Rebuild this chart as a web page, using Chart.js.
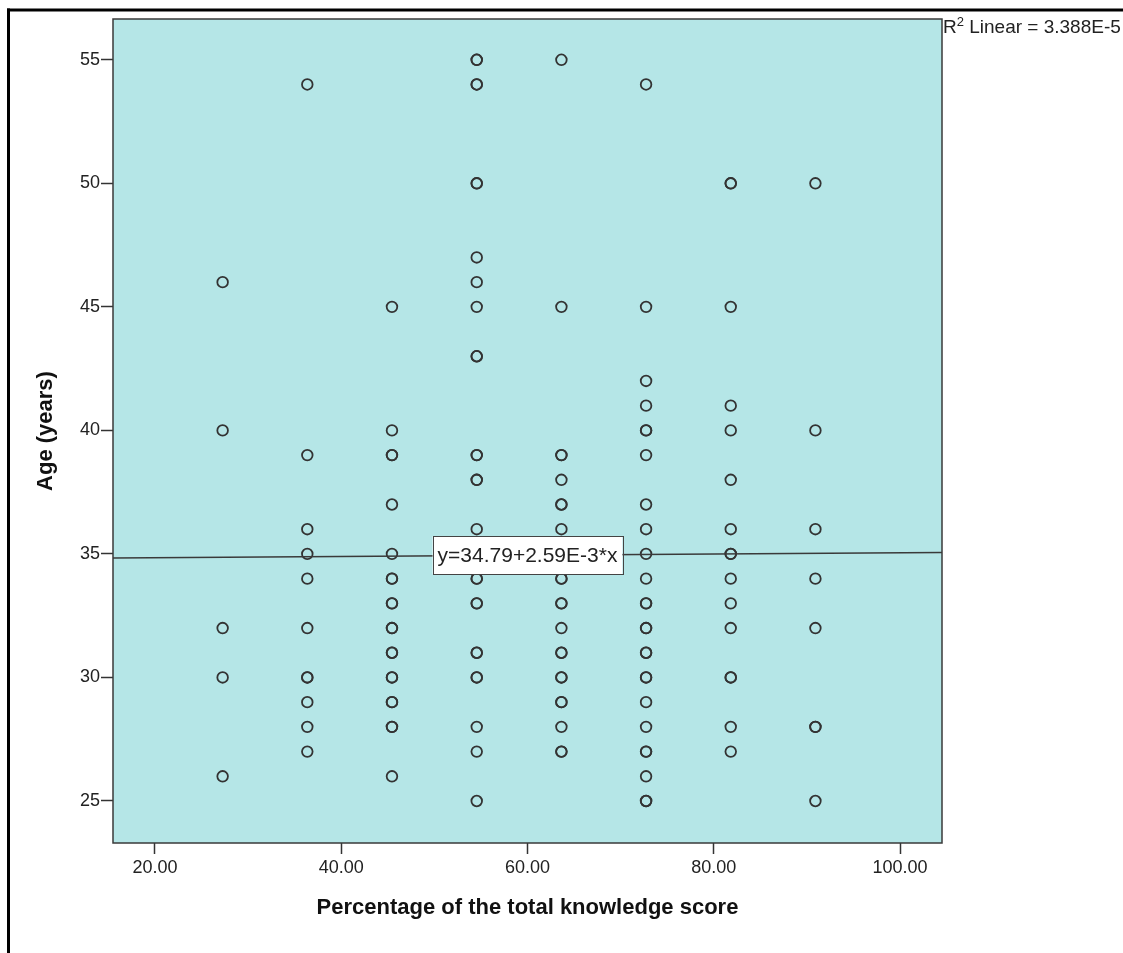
<!DOCTYPE html>
<html>
<head>
<meta charset="utf-8">
<script src="https://cdn.jsdelivr.net/npm/chart.js@4.4.1/dist/chart.umd.min.js"></script>
<style>
    html, body { margin: 0; padding: 0; background: #fff; }
    #wrap { width: 1123px; height: 953px; }
</style>
</head>
<body>
<div id="wrap"><canvas id="scatterChart" width="1123" height="953"></canvas></div>
<script>
const scoreLevels = [27.27, 36.36, 45.45, 54.55, 63.64, 72.73, 81.82, 90.91];
const ages27 = [46, 40, 32, 30, 26];
const ages36 = [54, 39, 36, 35, 34, 32, 30, 30, 29, 28, 27];
const ages45 = [45, 40, 39, 39, 37, 35, 34, 34, 33, 33, 32, 32, 31, 31, 30, 30, 29, 29, 28, 28, 26];
const ages54 = [55, 55, 54, 54, 50, 50, 47, 46, 45, 43, 43, 39, 39, 38, 38, 36, 34, 34, 33, 33, 31, 31, 30, 30, 28, 27, 25];
const ages63 = [55, 45, 39, 39, 38, 37, 37, 36, 34, 34, 33, 33, 32, 31, 31, 30, 30, 29, 29, 28, 27, 27];
const ages72 = [54, 45, 42, 41, 40, 40, 39, 37, 36, 35, 34, 33, 33, 32, 32, 31, 31, 30, 30, 29, 28, 27, 27, 26, 25, 25];
const ages81 = [50, 50, 45, 41, 40, 38, 36, 35, 35, 34, 33, 32, 30, 30, 28, 27];
const ages90 = [50, 40, 36, 34, 32, 28, 28, 25];
const agesByLevel = [ages27, ages36, ages45, ages54, ages63, ages72, ages81, ages90];

// Axis ticks
const xTicks = [20, 40, 60, 80, 100];
const yTicks = [25, 30, 35, 40, 45, 50, 55];

// Fit line
const fitIntercept = 34.79;
const fitSlope = 0.00259;
const fitLabel = 'y=34.79+2.59E-3*x';
const rSquaredText = '3.388E-5';

const xMin = 15.5, xMax = 104.5;
const yMin = 23.3, yMax = 56.65;

const points = [];
scoreLevels.forEach((level, i) => {
    agesByLevel[i].forEach(age => points.push({ x: level, y: age }));
});

const fitLine = [
    { x: xMin, y: fitIntercept + fitSlope * xMin },
    { x: xMax, y: fitIntercept + fitSlope * xMax }
];

const inkColor = '#333333';
const fontFamily = '"Liberation Sans", Arial, sans-serif';

// Background, frame, plot box, equation box and R2 label
const spssPlugin = {
    id: 'spssLook',
    beforeDraw(chart) {
        const { ctx, chartArea: a } = chart;
        ctx.save();
        ctx.fillStyle = '#000';
        ctx.fillRect(7, 8.5, chart.width, 3);
        ctx.fillRect(7, 8.5, 3, chart.height);
        ctx.fillStyle = '#b5e6e7';
        ctx.fillRect(a.left, a.top, a.right - a.left, a.bottom - a.top);
        ctx.restore();
    },
    afterDatasetsDraw(chart) {
        const { ctx, chartArea: a, scales } = chart;
        ctx.save();
        ctx.strokeStyle = '#3a3a3a';
        ctx.lineWidth = 1.5;
        ctx.strokeRect(a.left, a.top, a.right - a.left, a.bottom - a.top);

        // equation label in the middle of the fit line
        const cx = (a.left + a.right) / 2;
        const cy = scales.y.getPixelForValue(fitIntercept + fitSlope * scales.x.getValueForPixel(cx));
        ctx.font = '21px ' + fontFamily;
        const w = ctx.measureText(fitLabel).width + 10;
        const h = 38;
        ctx.fillStyle = '#fff';
        ctx.fillRect(cx - w / 2, cy - h / 2, w, h);
        ctx.strokeStyle = '#444';
        ctx.lineWidth = 1;
        ctx.strokeRect(Math.round(cx - w / 2) + 0.5, Math.round(cy - h / 2) + 0.5, Math.round(w), h);
        ctx.fillStyle = '#222';
        ctx.textAlign = 'center';
        ctx.textBaseline = 'middle';
        ctx.fillText(fitLabel, cx, cy + 1);

        // R2 label outside the top right corner
        let tx = a.right + 1;
        const base = a.top + 14;
        ctx.textAlign = 'left';
        ctx.textBaseline = 'alphabetic';
        ctx.font = '19px ' + fontFamily;
        ctx.fillText('R', tx, base);
        tx += ctx.measureText('R').width;
        ctx.font = '13px ' + fontFamily;
        ctx.fillText('2', tx, base - 7);
        tx += ctx.measureText('2').width;
        ctx.font = '19px ' + fontFamily;
        ctx.fillText(' Linear = ' + rSquaredText, tx, base);
        ctx.restore();
    }
};

const ctxScatter = document.getElementById('scatterChart').getContext('2d');
new Chart(ctxScatter, {
    type: 'scatter',
    data: {
        datasets: [
            {
                type: 'line',
                data: fitLine,
                borderColor: '#3a3a3a',
                borderWidth: 1.5,
                pointRadius: 0,
                fill: false
            },
            {
                data: points,
                pointStyle: 'circle',
                pointRadius: 5.3,
                borderWidth: 1.8,
                borderColor: inkColor,
                backgroundColor: 'rgba(0,0,0,0)'
            }
        ]
    },
    options: {
        responsive: false,
        animation: false,
        layout: { padding: { top: 19, right: 181, bottom: 0, left: 0 } },
        plugins: {
            legend: { display: false },
            tooltip: { enabled: false }
        },
        scales: {
            x: {
                type: 'linear',
                min: xMin,
                max: xMax,
                afterFit: scale => { scale.height = 110; },
                afterBuildTicks: scale => { scale.ticks = xTicks.map(v => ({ value: v })); },
                border: { display: false },
                grid: { drawOnChartArea: false, drawTicks: true, tickLength: 11, tickColor: inkColor, tickWidth: 1.5 },
                ticks: {
                    padding: 3,
                    color: '#222',
                    font: { family: fontFamily, size: 18 },
                    maxRotation: 0,
                    callback: v => Number(v).toFixed(2)
                },
                title: {
                    display: true,
                    text: 'Percentage of the total knowledge score',
                    color: '#111',
                    font: { family: fontFamily, size: 22, weight: 'bold' },
                    padding: { top: 0, bottom: 32 }
                }
            },
            y: {
                type: 'linear',
                min: yMin,
                max: yMax,
                afterFit: scale => { scale.width = 113; },
                afterBuildTicks: scale => { scale.ticks = yTicks.map(v => ({ value: v })); },
                border: { display: false },
                grid: { drawOnChartArea: false, drawTicks: true, tickLength: 12, tickColor: inkColor, tickWidth: 1.5 },
                ticks: {
                    padding: 1,
                    color: '#222',
                    font: { family: fontFamily, size: 18 }
                },
                title: {
                    display: true,
                    text: 'Age (years)',
                    color: '#111',
                    font: { family: fontFamily, size: 22, weight: 'bold' },
                    padding: { top: 33, bottom: 0 }
                }
            }
        }
    },
    plugins: [spssPlugin]
});
</script>
</body>
</html>
